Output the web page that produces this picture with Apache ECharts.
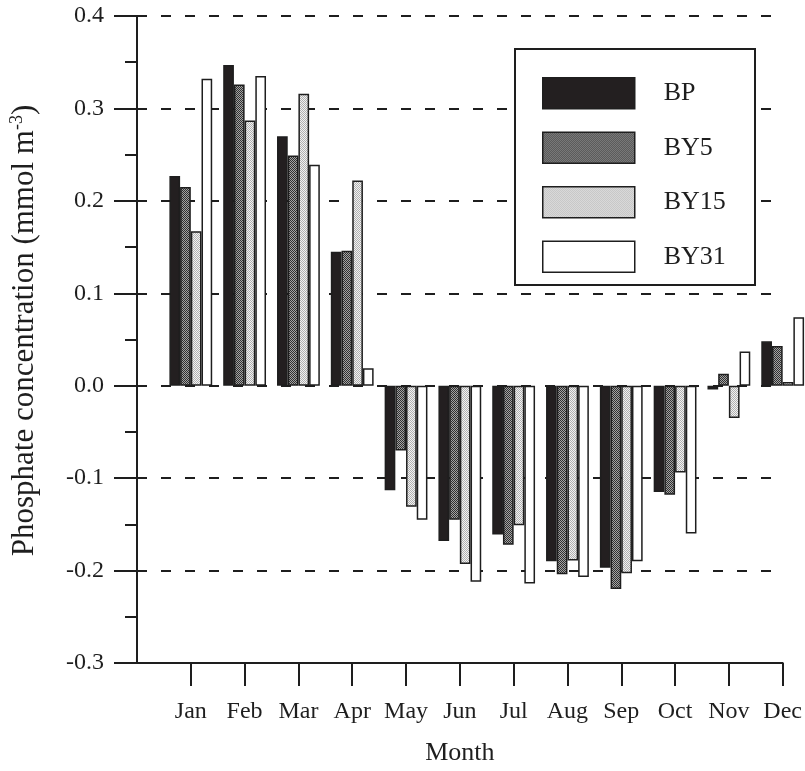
<!DOCTYPE html>
<html>
<head>
<meta charset="utf-8">
<script src="https://cdn.jsdelivr.net/npm/echarts@6/dist/echarts.min.js"></script>
<style>
  html, body { margin: 0; padding: 0; background: #fff; }
  #chart { width: 805px; height: 771px; }
</style>
</head>
<body>
<div id="chart"></div>
<script>
// monthly phosphate anomaly, one array per station
const months = ['Jan', 'Feb', 'Mar', 'Apr', 'May', 'Jun', 'Jul', 'Aug', 'Sep', 'Oct', 'Nov', 'Dec'];
const bp = [0.227, 0.347, 0.270, 0.145, -0.113, -0.168, -0.161, -0.190, -0.197, -0.115, -0.004, 0.048];
const by5 = [0.215, 0.326, 0.249, 0.146, -0.070, -0.145, -0.172, -0.204, -0.220, -0.118, 0.013, 0.043];
const by15 = [0.167, 0.287, 0.316, 0.222, -0.131, -0.193, -0.151, -0.189, -0.203, -0.094, -0.035, 0.004];
const by31 = [0.332, 0.335, 0.239, 0.019, -0.145, -0.212, -0.214, -0.207, -0.190, -0.160, 0.037, 0.074];

const serif = "'Liberation Serif', 'DejaVu Serif', serif";
const ink = '#1e1e1e';

// small halftone tile for the grey bars
function dots(base, dot) {
  const c = document.createElement('canvas');
  c.width = 2;
  c.height = 2;
  const g = c.getContext('2d');
  g.fillStyle = base;
  g.fillRect(0, 0, 2, 2);
  g.fillStyle = dot;
  g.fillRect(0, 0, 1, 1);
  g.fillRect(1, 1, 1, 1);
  return { image: c, repeat: 'repeat' };
}

function bar(name, values, fill) {
  return {
    name: name,
    type: 'bar',
    // first slot is the empty category sitting on the y axis
    data: ['-'].concat(values),
    barWidth: 10.7,
    barGap: '0%',
    clip: false,
    itemStyle: { color: fill, borderColor: ink, borderWidth: 1.5 },
    emphasis: { disabled: true }
  };
}

const myChart = echarts.init(document.getElementById('chart'));
const lineStyle = { color: ink, width: 2 };

const option = {
  animation: false,
  backgroundColor: '#fff',
  grid: { left: 135, right: 22, top: 16, bottom: 102 },
  graphic: [{
    type: 'rect',
    z: 3,
    shape: { x: 515, y: 49, width: 240, height: 236 },
    style: { fill: '#fff', stroke: ink, lineWidth: 2 }
  }],
  legend: {
    orient: 'vertical',
    left: 542,
    top: 77,
    padding: 0,
    itemWidth: 92,
    itemHeight: 31,
    itemGap: 22,
    icon: 'rect',
    itemStyle: { borderColor: ink, borderWidth: 1.5 },
    textStyle: { fontFamily: serif, fontSize: 26, color: ink, padding: [0, 0, 0, 24] },
    data: ['BP', 'BY5', 'BY15', 'BY31']
  },
  xAxis: {
    type: 'category',
    data: [''].concat(months),
    boundaryGap: false,
    name: 'Month',
    nameLocation: 'middle',
    nameGap: 77,
    nameTextStyle: { fontFamily: serif, fontSize: 26, color: ink },
    axisLine: { onZero: false, lineStyle: lineStyle },
    axisTick: { length: 23, interval: function (i) { return i > 0; }, lineStyle: lineStyle },
    axisLabel: { interval: 0, margin: 37, fontFamily: serif, fontSize: 24, color: ink },
    splitLine: { show: false }
  },
  yAxis: {
    type: 'value',
    min: -0.3,
    max: 0.4,
    interval: 0.1,
    name: 'Phosphate concentration (mmol m{sup|-3})',
    nameLocation: 'middle',
    nameGap: 95,
    nameTextStyle: {
      fontFamily: serif, fontSize: 31, color: ink, lineHeight: 34, padding: [0, 0, 0, 18],
      rich: { sup: { fontFamily: serif, fontSize: 18, color: ink, verticalAlign: 'top', lineHeight: 34 } }
    },
    axisLine: { show: true, lineStyle: lineStyle },
    axisTick: { show: true, length: 23, lineStyle: lineStyle },
    minorTick: { show: true, splitNumber: 2, length: 12, lineStyle: lineStyle },
    axisLabel: {
      margin: 33, fontFamily: serif, fontSize: 24, color: ink,
      formatter: function (v) { return Math.abs(v) < 1e-9 ? '0.0' : v.toFixed(1); }
    },
    splitLine: { show: true, lineStyle: { type: [10, 14], color: ink, width: 2 } }
  },
  series: [
    bar('BP', bp, '#231f20'),
    bar('BY5', by5, dots('#a4a4a4', '#303030')),
    bar('BY15', by15, dots('#f2f2f2', '#b0b0b0')),
    bar('BY31', by31, '#ffffff')
  ]
};

myChart.setOption(option);
</script>
</body>
</html>
